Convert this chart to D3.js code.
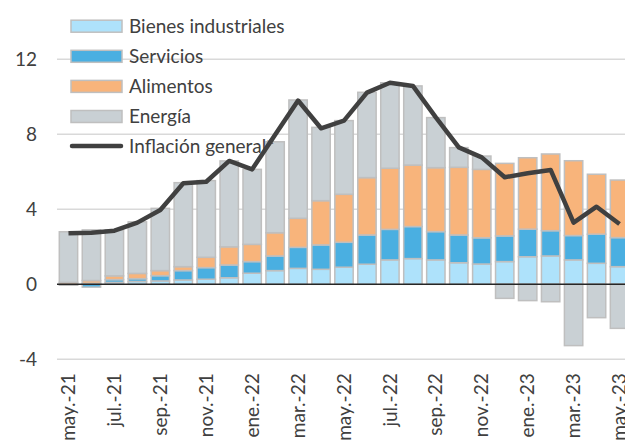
<!DOCTYPE html>
<html>
<head>
<meta charset="utf-8">
<script src="https://cdn.jsdelivr.net/npm/d3@7"></script>
<style>
	body { margin: 0; background: #fff; }
	svg { display: block; font-family: Lato, "Open Sans", sans-serif; }
</style>
</head>
<body>
<script>
(function() {

	var months = ["may.-21", "jun.-21", "jul.-21", "ago.-21", "sep.-21", "oct.-21", "nov.-21", "dic.-21",
		"ene.-22", "feb.-22", "mar.-22", "abr.-22", "may.-22", "jun.-22", "jul.-22", "ago.-22",
		"sep.-22", "oct.-22", "nov.-22", "dic.-22", "ene.-23", "feb.-23", "mar.-23", "abr.-23", "may.-23"];
	var tickMonths = ["may.-21", "jul.-21", "sep.-21", "nov.-21", "ene.-22", "mar.-22", "may.-22",
		"jul.-22", "sep.-22", "nov.-22", "ene.-23", "mar.-23", "may.-23"];
	var yTicks = [-4, 0, 4, 8, 12];

	var bienes = [-0.05, 0.05, 0.1, 0.15, 0.18, 0.23, 0.27, 0.35, 0.59, 0.73, 0.85, 0.8, 0.91,
		1.07, 1.3, 1.37, 1.3, 1.15, 1.08, 1.21, 1.47, 1.51, 1.3, 1.12, 0.94];
	var servicios = [0.0, -0.15, 0.15, 0.15, 0.28, 0.5, 0.62, 0.68, 0.62, 0.78, 1.12, 1.3, 1.33,
		1.56, 1.63, 1.71, 1.51, 1.48, 1.4, 1.37, 1.47, 1.35, 1.3, 1.55, 1.55];
	var alimentos = [0.1, 0.15, 0.2, 0.28, 0.27, 0.21, 0.55, 0.97, 0.92, 1.24, 1.55, 2.36, 2.56,
		3.06, 3.26, 3.28, 3.41, 3.61, 3.65, 3.87, 3.81, 4.09, 3.99, 3.2, 3.07];
	var energia = [2.7, 2.7, 2.45, 2.75, 3.32, 4.48, 4.09, 4.58, 4.0, 4.85, 6.31, 3.91, 3.93,
		4.55, 4.56, 4.22, 2.67, 1.05, 0.71, -0.75, -0.87, -0.93, -3.27, -1.78, -2.35];
	var general = [2.72, 2.75, 2.86, 3.29, 3.96, 5.39, 5.47, 6.58, 6.13, 7.98, 9.8, 8.32, 8.73,
		10.22, 10.75, 10.58, 8.9, 7.3, 6.77, 5.71, 5.92, 6.1, 3.29, 4.14, 3.22];

	var seriesNames = ["Bienes industriales", "Servicios", "Alimentos", "Energía"];
	var seriesValues = [bienes, servicios, alimentos, energia];
	var colors = ["#aee2fb", "#4aafe1", "#f8b47b", "#c9d0d4"];
	var lineName = "Inflación general*";

	var width = 625, height = 441;

	var svg = d3.select("body").append("svg")
		.attr("width", width)
		.attr("height", height);

	var x = d3.scaleBand()
		.domain(months)
		.range([57, 631])
		.paddingInner(0.2)
		.paddingOuter(0.1);

	var y = d3.scaleLinear()
		.domain([-4, 12])
		.range([359.3, 59.3]);

	// table for the stack
	var table = months.map(function(m, i) {
		var row = { month: m };
		seriesNames.forEach(function(s, j) { row[s] = seriesValues[j][i]; });
		return row;
	});

	var stacked = d3.stack()
		.keys(seriesNames)
		.offset(d3.stackOffsetDiverging)(table);

	// gridlines
	svg.append("g").selectAll("line")
		.data(yTicks.filter(function(d) { return d !== 0; }))
		.enter().append("line")
		.attr("x1", 57).attr("x2", width)
		.attr("y1", function(d) { return y(d); })
		.attr("y2", function(d) { return y(d); })
		.attr("stroke", "#d9d9d9")
		.attr("stroke-width", 1.5);

	// y axis labels (plain hyphen for negatives)
	var yAxis = svg.append("g")
		.attr("transform", "translate(57,0)")
		.call(d3.axisLeft(y).tickValues(yTicks).tickSize(0).tickPadding(20).tickFormat(function(d) { return String(d); }));
	yAxis.select(".domain").remove();
	yAxis.selectAll("text")
		.attr("font-size", 19)
		.attr("font-family", "Lato")
		.attr("fill", "#404040");

	// bars
	svg.append("g").selectAll("g")
		.data(stacked)
		.enter().append("g")
		.attr("fill", function(d, i) { return colors[i]; })
		.selectAll("rect")
		.data(function(d) { return d; })
		.enter().append("rect")
		.attr("x", function(d) { return x(d.data.month); })
		.attr("width", x.bandwidth())
		.attr("y", function(d) { return y(Math.max(d[0], d[1])); })
		.attr("height", function(d) { return Math.abs(y(d[0]) - y(d[1])); })
		.attr("stroke", "#bfbfbf")
		.attr("stroke-width", 1.5);

	// zero line
	svg.append("line")
		.attr("x1", 57).attr("x2", width)
		.attr("y1", y(0)).attr("y2", y(0))
		.attr("stroke", "#262626")
		.attr("stroke-width", 1.5);

	// x axis labels
	var xAxis = svg.append("g")
		.attr("transform", "translate(0," + y(-4) + ")")
		.call(d3.axisBottom(x).tickValues(tickMonths).tickSize(0));
	xAxis.select(".domain").remove();
	xAxis.selectAll("text")
		.attr("transform", "rotate(-90)")
		.attr("x", -14)
		.attr("y", 0)
		.attr("dy", "0.35em")
		.attr("text-anchor", "end")
		.attr("font-size", 19)
		.attr("font-family", "Lato")
		.attr("fill", "#404040");

	// legend
	var legend = svg.append("g");
	var rowY = function(i) { return 26.2 + i * 30.1; };
	seriesNames.forEach(function(s, i) {
		legend.append("rect")
			.attr("x", 71).attr("y", rowY(i) - 6)
			.attr("width", 51).attr("height", 12)
			.attr("fill", colors[i])
			.attr("stroke", "#bfbfbf")
			.attr("stroke-width", 1.5);
	});
	legend.append("line")
		.attr("x1", 72).attr("x2", 121)
		.attr("y1", rowY(4) - 0.5).attr("y2", rowY(4) - 0.5)
		.attr("stroke", "#404040")
		.attr("stroke-width", 4.5)
		.attr("stroke-linecap", "round");
	legend.selectAll("text")
		.data(seriesNames.concat([lineName]))
		.enter().append("text")
		.attr("x", 129)
		.attr("y", function(d, i) { return rowY(i); })
		.attr("dy", "0.35em")
		.attr("font-size", 19)
		.attr("fill", "#404040")
		.text(function(d) { return d; });

	// general inflation line
	var line = d3.line()
		.x(function(d, i) { return x(months[i]) + x.bandwidth() / 2; })
		.y(function(d) { return y(d); });
	svg.append("path")
		.datum(general)
		.attr("d", line)
		.attr("fill", "none")
		.attr("stroke", "#404040")
		.attr("stroke-width", 4.5)
		.attr("stroke-linejoin", "round");

})();
</script>
</body>
</html>
